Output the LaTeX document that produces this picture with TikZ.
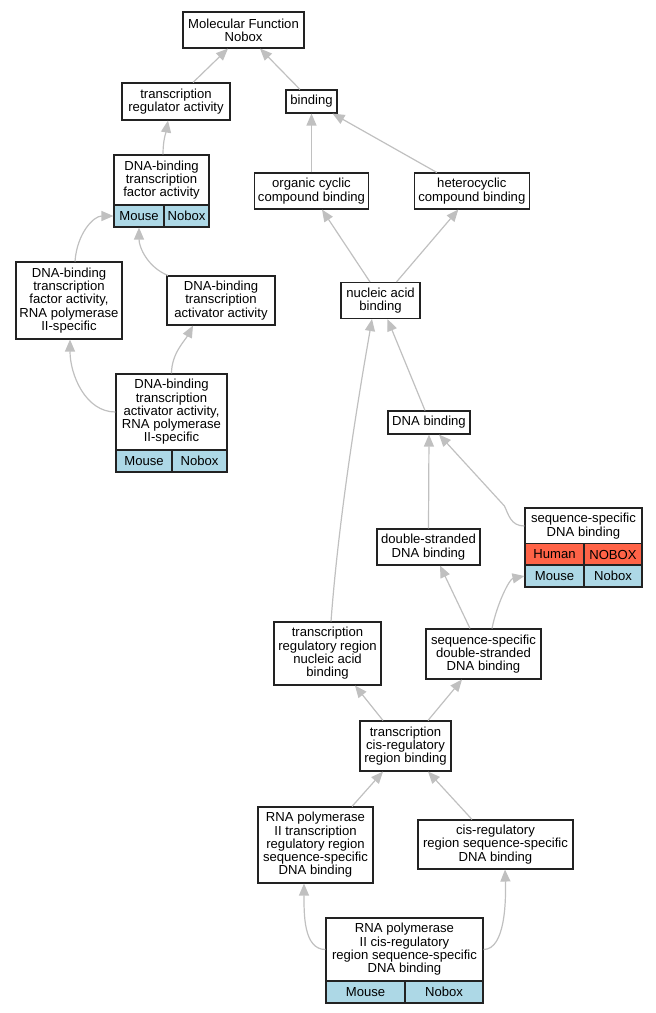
\documentclass[tikz,border=0pt]{standalone}
\usepackage{fontspec}
\setmainfont{Liberation Sans}
\usetikzlibrary{arrows.meta}
\definecolor{edgegray}{HTML}{C0C0C0}
\definecolor{cellblue}{HTML}{ADD8E6}
\definecolor{cellred}{HTML}{FF6347}
\definecolor{boxline}{HTML}{222222}
\newcommand{\gofont}{\fontsize{13.1pt}{13.3pt}\selectfont}
\tikzset{
  gobox/.style={draw=boxline, line width=1.1pt, fill=white, inner sep=0pt, align=center, font=\gofont},
  cellb/.style={gobox, fill=cellblue},
  cellr/.style={gobox, fill=cellred},
  edge/.style={draw=edgegray, line width=1.2pt, -{Triangle[length=12pt,width=10pt]}, color=edgegray},
}
\begin{document}
\begin{tikzpicture}[x=1pt,y=-1pt]
\useasboundingbox (0,0) rectangle (656,1013);
% nodes
\node[gobox, minimum width=121pt, minimum height=36pt] (mf) at (243.5,30) {Molecular Function\\Nobox};
\node[gobox, minimum width=108pt, minimum height=37pt] (tra) at (176,101.5) {transcription\\regulator activity};
\node[gobox, minimum width=51pt, minimum height=23pt] (bind) at (311.5,101.5) {binding};
\node[gobox, minimum width=95pt, minimum height=50pt] (dtfa) at (161.5,180) {DNA-binding\\transcription\\factor activity};
\node[cellb, minimum width=50pt, minimum height=22pt] (dtfam) at (139,216) {Mouse};
\node[cellb, minimum width=45pt, minimum height=22pt] (dtfan) at (186.5,216) {Nobox};
\node[gobox, minimum width=114pt, minimum height=36pt] (occ) at (311.5,191) {organic cyclic\\compound binding};
\node[gobox, minimum width=115pt, minimum height=36pt] (hcb) at (471.8,191) {heterocyclic\\compound binding};
\node[gobox, minimum width=106pt, minimum height=77pt] (dtfa2) at (69,300.5) {DNA-binding\\transcription\\factor activity,\\RNA polymerase\\II-specific};
\node[gobox, minimum width=108pt, minimum height=49pt] (dtaa) at (221,300.5) {DNA-binding\\transcription\\activator activity};
\node[gobox, minimum width=79pt, minimum height=36pt] (nab) at (380.5,300.5) {nucleic acid\\binding};
\node[gobox, minimum width=111pt, minimum height=76pt] (dtaa2) at (171.5,412) {DNA-binding\\transcription\\activator activity,\\RNA polymerase\\II-specific};
\node[cellb, minimum width=56pt, minimum height=22pt] (dtaa2m) at (144,461) {Mouse};
\node[cellb, minimum width=55pt, minimum height=22pt] (dtaa2n) at (199.5,461) {Nobox};
\node[gobox, minimum width=82pt, minimum height=23pt] (dnab) at (429,422.5) {DNA binding};
\node[gobox, minimum width=117pt, minimum height=36pt] (ssdb) at (583.5,526) {sequence-specific\\DNA binding};
\node[cellr, minimum width=59pt, minimum height=21.5pt] (ssdbh) at (554.5,554.5) {Human};
\node[cellr, minimum width=58pt, minimum height=21.5pt] (ssdbhn) at (613,554.5) {NOBOX};
\node[cellb, minimum width=59pt, minimum height=22pt] (ssdbm) at (554.5,576) {Mouse};
\node[cellb, minimum width=58pt, minimum height=22pt] (ssdbmn) at (613,576) {Nobox};
\node[gobox, minimum width=103pt, minimum height=36pt] (dsdb) at (428.5,547) {double-stranded\\DNA binding};
\node[gobox, minimum width=107pt, minimum height=63pt] (trrnab) at (327.5,653.5) {transcription\\regulatory region\\nucleic acid\\binding};
\node[gobox, minimum width=115pt, minimum height=50pt] (ssdsdb) at (483.5,654) {sequence-specific\\double-stranded\\DNA binding};
\node[gobox, minimum width=91pt, minimum height=50pt] (tcrrb) at (405.5,746) {transcription\\cis-regulatory\\region binding};
\node[gobox, minimum width=115pt, minimum height=76pt] (rp2) at (315.5,845) {RNA polymerase\\II transcription\\regulatory region\\sequence-specific\\DNA binding};
\node[gobox, minimum width=155pt, minimum height=49pt] (crr) at (495.5,844.5) {cis-regulatory\\region sequence-specific\\DNA binding};
\node[gobox, minimum width=157pt, minimum height=63pt] (rp2cis) at (404.5,949.5) {RNA polymerase\\II cis-regulatory\\region sequence-specific\\DNA binding};
\node[cellb, minimum width=79pt, minimum height=22pt] (rp2cism) at (365.5,992) {Mouse};
\node[cellb, minimum width=78pt, minimum height=22pt] (rp2cisn) at (444,992) {Nobox};
% edges
\draw[edge] ([xshift=17pt]tra.north) -- ([xshift=-15.5pt]mf.south);
\draw[edge] ([xshift=-11.5pt]bind.north) -- ([xshift=16.5pt]mf.south);
\draw[edge] ([xshift=1.5pt]dtfa.north) .. controls +(0,-15) and +(-2,12) .. ([xshift=-8pt]tra.south);
\draw[edge] (occ.north) -- (bind.south);
\draw[edge] ([xshift=-35pt]hcb.north) -- ([xshift=-5pt]bind.south east);
\draw[edge] ([xshift=6pt]dtfa2.north) .. controls +(2,-28) and +(-20,0) .. (dtfam.west);
\draw[edge] ([xshift=-53pt]dtaa.north) .. controls +(-20,-8) and +(0,20) .. (dtfam.south);
\draw[edge] (dtaa2.west) .. controls +(-30,0) and +(0,35) .. ([xshift=1pt]dtfa2.south);
\draw[edge] (dtaa2.north) .. controls +(0,-20) and +(-8,15) .. ([xshift=-28pt]dtaa.south);
\draw[edge] ([xshift=-10.5pt]nab.north) -- ([xshift=10.5pt]occ.south);
\draw[edge] ([xshift=16pt]nab.north) -- ([xshift=-13.5pt]hcb.south);
\draw[edge] ([xshift=-4pt]dnab.north) -- ([xshift=7pt]nab.south);
\draw[edge] ([xshift=3.5pt]trrnab.north) .. controls +(9,-122) and +(-7,41) .. ([xshift=-8.5pt]nab.south);
\draw[edge] (ssdb.west) .. controls +(-14,0) and +(4,8) .. ++(-20,-20) -- ([xshift=10pt]dnab.south);
\draw[edge] (dsdb.north) -- (dnab.south);
\draw[edge] ([xshift=-13.5pt]ssdsdb.north) -- ([xshift=11.5pt]dsdb.south);
\draw[edge] ([xshift=8.5pt]ssdsdb.north) .. controls +(5,-25) and +(-15,3) .. (ssdbm.west);
\draw[edge] ([xshift=-22.5pt]tcrrb.north) -- ([xshift=27.5pt]trrnab.south);
\draw[edge] ([xshift=22.5pt]tcrrb.north) -- ([xshift=-21.5pt]ssdsdb.south);
\draw[edge] ([xshift=36.5pt]rp2.north) -- ([xshift=-22.5pt]tcrrb.south);
\draw[edge] ([xshift=-23.5pt]crr.north) -- ([xshift=22.5pt]tcrrb.south);
\draw[edge] (rp2cis.west) .. controls +(-22,0) and +(0,30) .. ([xshift=-11.5pt]rp2.south);
\draw[edge] (rp2cis.east) .. controls +(22,0) and +(1,30) .. ([xshift=9.5pt]crr.south);
\end{tikzpicture}
\end{document}
